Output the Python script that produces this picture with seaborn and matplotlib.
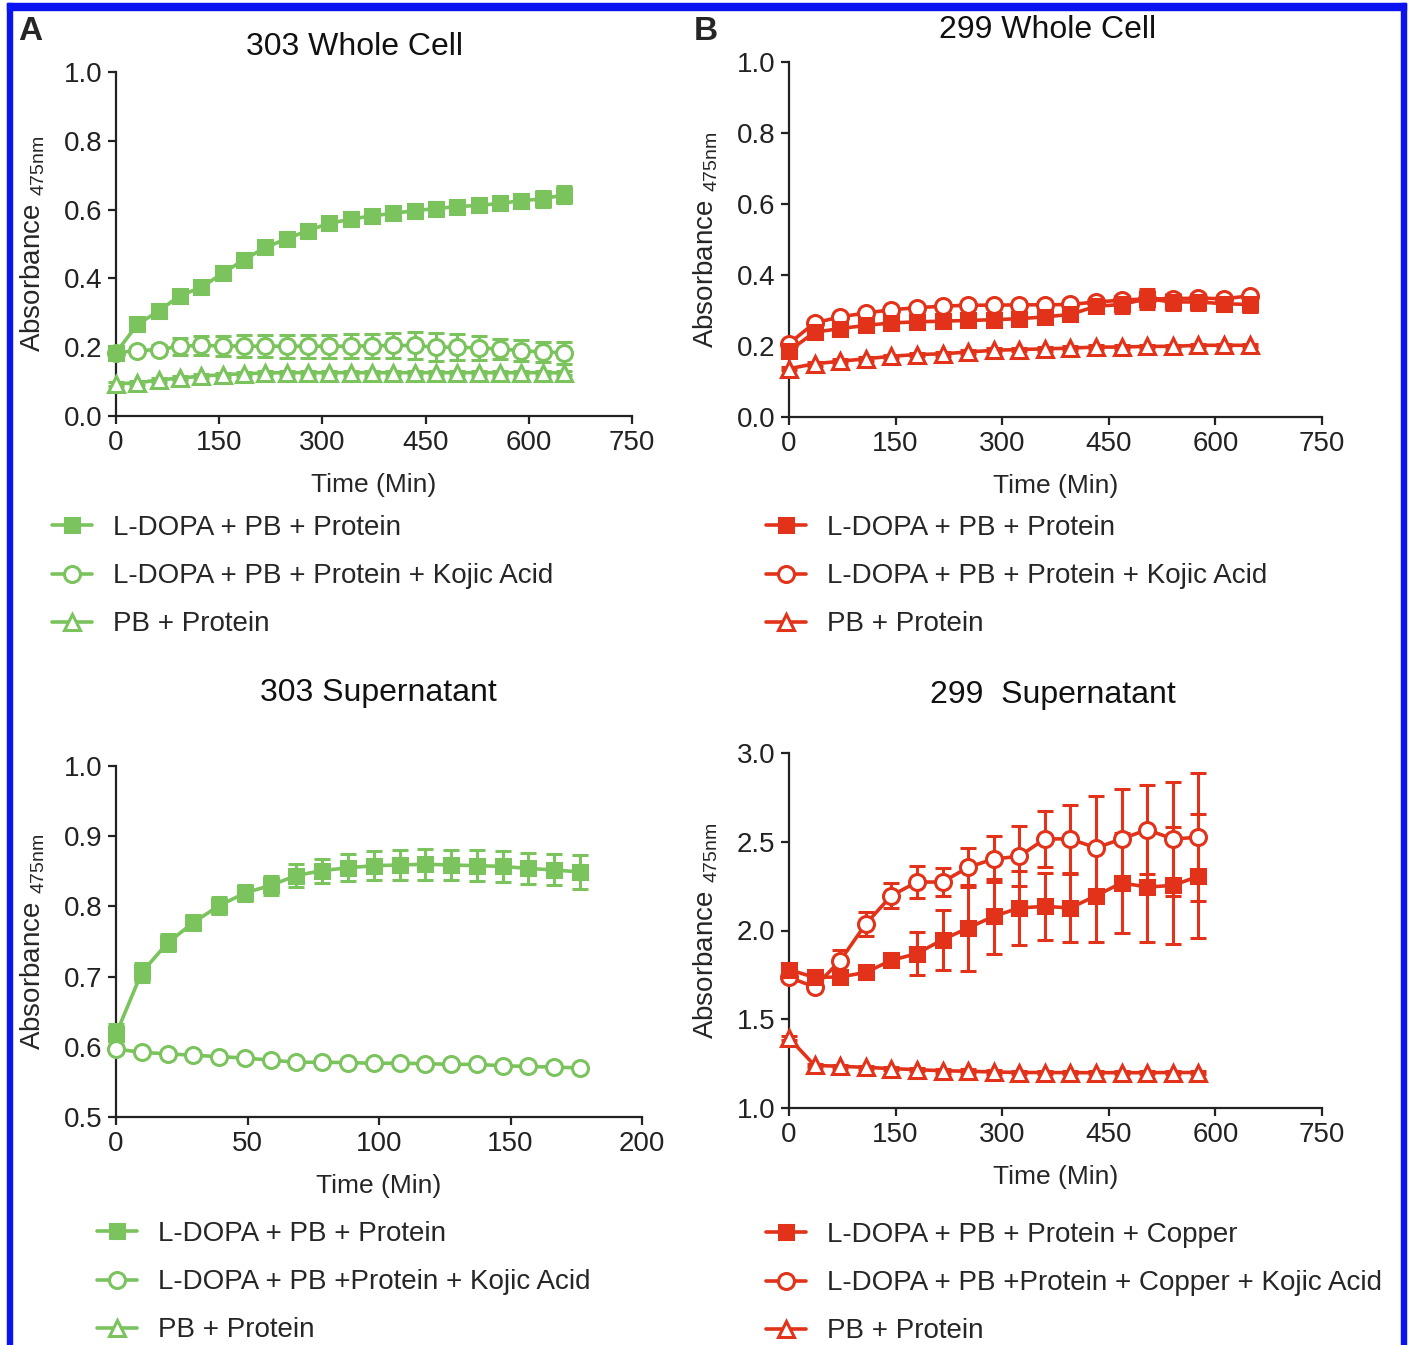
import numpy as np
import pandas as pd
import matplotlib
matplotlib.use("Agg")
import matplotlib.pyplot as plt
from matplotlib.lines import Line2D
from matplotlib.patches import Rectangle
import seaborn as sns

# ---- data ----
# 303 Whole Cell
t_303wc = [0, 31, 62, 93, 124, 155, 186, 217, 248, 279, 310, 341, 372, 403, 434, 465, 496, 527, 558, 589, 620, 651]
wc303_dopa = [0.184, 0.266, 0.305, 0.350, 0.374, 0.415, 0.454, 0.490, 0.515, 0.539, 0.560, 0.572, 0.582, 0.589,
              0.597, 0.603, 0.609, 0.612, 0.618, 0.626, 0.631, 0.643]
wc303_dopa_err = [0.012, 0.012, 0.012, 0.012, 0.012, 0.013, 0.013, 0.015, 0.015, 0.015, 0.010, 0.012, 0.015, 0.018,
                  0.020, 0.020, 0.020, 0.020, 0.020, 0.020, 0.022, 0.025]
wc303_kojic = [0.184, 0.190, 0.193, 0.203, 0.205, 0.204, 0.203, 0.203, 0.203, 0.203, 0.203, 0.203, 0.204, 0.205,
               0.205, 0.200, 0.200, 0.198, 0.195, 0.190, 0.186, 0.184]
wc303_kojic_err = [0.010, 0.010, 0.012, 0.025, 0.028, 0.030, 0.032, 0.032, 0.033, 0.033, 0.033, 0.034, 0.035, 0.036,
                   0.040, 0.040, 0.038, 0.035, 0.030, 0.030, 0.030, 0.032]
wc303_pb = [0.094, 0.096, 0.105, 0.110, 0.116, 0.120, 0.123, 0.125, 0.126, 0.126, 0.126, 0.126, 0.126, 0.126,
            0.126, 0.126, 0.126, 0.126, 0.126, 0.126, 0.126, 0.125]
wc303_pb_err = [0.006] * 22

# 299 Whole Cell
t_299wc = [0, 36, 72, 108, 144, 180, 216, 252, 288, 324, 360, 396, 432, 468, 504, 540, 576, 612, 648]
wc299_dopa = [0.186, 0.239, 0.249, 0.258, 0.265, 0.268, 0.270, 0.272, 0.274, 0.277, 0.282, 0.289, 0.312, 0.317,
              0.333, 0.324, 0.324, 0.319, 0.317]
wc299_dopa_err = [0.010, 0.010, 0.008, 0.008, 0.008, 0.008, 0.008, 0.008, 0.008, 0.008, 0.008, 0.008, 0.010, 0.025,
                  0.028, 0.022, 0.022, 0.018, 0.022]
wc299_kojic = [0.207, 0.265, 0.282, 0.293, 0.302, 0.308, 0.312, 0.315, 0.315, 0.316, 0.316, 0.317, 0.324, 0.329,
               0.333, 0.333, 0.335, 0.333, 0.341]
wc299_kojic_err = [0.008] * 19
wc299_pb = [0.136, 0.150, 0.157, 0.164, 0.171, 0.176, 0.178, 0.183, 0.188, 0.190, 0.192, 0.194, 0.197, 0.197,
            0.199, 0.199, 0.202, 0.202, 0.202]
wc299_pb_err = [0.005] * 19

# 303 Supernatant
t_303sn = [0, 9.8, 19.6, 29.4, 39.2, 49, 58.8, 68.6, 78.4, 88.2, 98, 107.8, 117.6, 127.4, 137.2, 147, 156.8, 166.6, 176.4]
sn303_dopa = [0.618, 0.706, 0.748, 0.777, 0.801, 0.819, 0.830, 0.844, 0.851, 0.855, 0.858, 0.859, 0.860, 0.859,
              0.858, 0.857, 0.854, 0.852, 0.849]
sn303_dopa_err = [0.015, 0.014, 0.012, 0.011, 0.012, 0.012, 0.014, 0.017, 0.017, 0.019, 0.021, 0.021, 0.022, 0.022,
                  0.022, 0.022, 0.022, 0.022, 0.024]
sn303_kojic = [0.597, 0.592, 0.590, 0.588, 0.586, 0.584, 0.581, 0.578, 0.578, 0.5775, 0.5766, 0.5766, 0.576, 0.575,
               0.575, 0.573, 0.572, 0.571, 0.570]
sn303_kojic_err = [0.004] * 19

# 299 Supernatant
t_299sn = [0, 36, 72, 108, 144, 180, 216, 252, 288, 324, 360, 396, 432, 468, 504, 540, 576]
sn299_cu = [1.779, 1.736, 1.738, 1.764, 1.832, 1.870, 1.948, 2.014, 2.080, 2.127, 2.136, 2.127, 2.196, 2.268,
            2.245, 2.254, 2.305]
sn299_cu_err = [0.02, 0.015, 0.015, 0.015, 0.03, 0.12, 0.17, 0.24, 0.21, 0.21, 0.19, 0.19, 0.26, 0.28,
                0.31, 0.33, 0.35]
sn299_kojic = [1.736, 1.682, 1.830, 2.037, 2.196, 2.273, 2.273, 2.356, 2.403, 2.418, 2.516, 2.516, 2.465, 2.516,
               2.568, 2.516, 2.525]
sn299_kojic_err = [0.02, 0.02, 0.06, 0.07, 0.07, 0.09, 0.08, 0.11, 0.13, 0.17, 0.16, 0.19, 0.29, 0.28,
                   0.25, 0.32, 0.36]
sn299_pb = [1.394, 1.240, 1.235, 1.229, 1.222, 1.216, 1.210, 1.207, 1.203, 1.200, 1.200, 1.199, 1.199, 1.199,
            1.199, 1.200, 1.200]
sn299_pb_err = [0.01] * 17

GREEN = '#7AC35D'
RED = '#E2331A'

W, H = 1415, 1345
sns.set_theme(style='ticks')
plt.rcParams['font.family'] = ['Liberation Sans', 'DejaVu Sans']
plt.rcParams['mathtext.default'] = 'regular'

fig = plt.figure(figsize=(W / 100, H / 100), dpi=100)


def px_axes(left, right, top, bottom):
    return fig.add_axes([left / W, 1 - bottom / H, (right - left) / W, (bottom - top) / H])


def fx(x):
    return x / W


def fy(y):
    return 1 - y / H


def draw_series(ax, t, y, err, color, marker, filled):
    df = pd.DataFrame({'t': t, 'y': y})
    ax.errorbar(t, y, yerr=err, fmt='none', ecolor=color, elinewidth=2.2, capsize=6, capthick=2.2,
                clip_on=False, zorder=3)
    sns.lineplot(data=df, x='t', y='y', ax=ax, color=color, lw=2.6, marker=marker,
                 ms=11.5 if marker != 's' else 10.5, mec=color, mew=2.2,
                 mfc=color if filled else 'white', clip_on=False, zorder=4)


def style_axes(ax, xlim, xticks, ylim, yticks, yfmt):
    ax.set_xlim(*xlim)
    ax.set_ylim(*ylim)
    ax.set_xticks(xticks)
    ax.set_yticks(yticks)
    ax.set_yticklabels([yfmt.format(v) for v in yticks])
    sns.despine(ax=ax)
    for s in ['left', 'bottom']:
        ax.spines[s].set_linewidth(1.6)
        ax.spines[s].set_color('#222222')
    ax.tick_params(length=6, width=1.6, labelsize=20, pad=4, colors='#222222')
    ax.set_xlabel('Time (Min)', fontsize=19, labelpad=12)
    ax.set_ylabel(r'Absorbance $_{475nm}$', fontsize=20, labelpad=12)


def add_legend(labels, color, left, top):
    handles = [Line2D([], [], color=color, lw=2.6, marker='s', ms=10.5, mfc=color, mec=color, mew=2.2),
               Line2D([], [], color=color, lw=2.6, marker='o', ms=11.5, mfc='white', mec=color, mew=2.2),
               Line2D([], [], color=color, lw=2.6, marker='^', ms=11.5, mfc='white', mec=color, mew=2.2)]
    fig.legend(handles, labels, loc='upper left', bbox_to_anchor=(fx(left), fy(top)),
               frameon=False, fontsize=20, handlelength=1.45, handletextpad=0.75,
               labelspacing=0.8, borderpad=0, borderaxespad=0)


# ---- A: 303 Whole Cell ----
axA = px_axes(116, 632, 72, 416)
draw_series(axA, t_303wc, wc303_pb, wc303_pb_err, GREEN, '^', False)
draw_series(axA, t_303wc, wc303_kojic, wc303_kojic_err, GREEN, 'o', False)
draw_series(axA, t_303wc, wc303_dopa, wc303_dopa_err, GREEN, 's', True)
style_axes(axA, (0, 750), [0, 150, 300, 450, 600, 750], (0, 1.0), [0, 0.2, 0.4, 0.6, 0.8, 1.0], '{:.1f}')

# ---- B: 299 Whole Cell ----
axB = px_axes(789, 1322, 62, 417)
draw_series(axB, t_299wc, wc299_pb, wc299_pb_err, RED, '^', False)
draw_series(axB, t_299wc, wc299_kojic, wc299_kojic_err, RED, 'o', False)
draw_series(axB, t_299wc, wc299_dopa, wc299_dopa_err, RED, 's', True)
style_axes(axB, (0, 750), [0, 150, 300, 450, 600, 750], (0, 1.0), [0, 0.2, 0.4, 0.6, 0.8, 1.0], '{:.1f}')

# ---- 303 Supernatant ----
axC = px_axes(116, 642, 766, 1117)
draw_series(axC, t_303sn, sn303_kojic, sn303_kojic_err, GREEN, 'o', False)
draw_series(axC, t_303sn, sn303_dopa, sn303_dopa_err, GREEN, 's', True)
style_axes(axC, (0, 200), [0, 50, 100, 150, 200], (0.5, 1.0), [0.5, 0.6, 0.7, 0.8, 0.9, 1.0], '{:.1f}')

# ---- 299 Supernatant ----
axD = px_axes(789, 1322, 753, 1108)
draw_series(axD, t_299sn, sn299_pb, sn299_pb_err, RED, '^', False)
draw_series(axD, t_299sn, sn299_kojic, sn299_kojic_err, RED, 'o', False)
draw_series(axD, t_299sn, sn299_cu, sn299_cu_err, RED, 's', True)
style_axes(axD, (0, 750), [0, 150, 300, 450, 600, 750], (1.0, 3.0), [1.0, 1.5, 2.0, 2.5, 3.0], '{:.1f}')

# titles and panel letters
fig.text(fx(354), fy(47), '303 Whole Cell', fontsize=23, ha='center', va='center', color='#111111')
fig.text(fx(1048), fy(30), '299 Whole Cell', fontsize=23, ha='center', va='center', color='#111111')
fig.text(fx(378), fy(693), '303 Supernatant', fontsize=23, ha='center', va='center', color='#111111')
fig.text(fx(1053), fy(695), '299  Supernatant', fontsize=23, ha='center', va='center', color='#111111')
fig.text(fx(30), fy(31), 'A', fontsize=24, fontweight='bold', ha='center', va='center')
fig.text(fx(706), fy(31), 'B', fontsize=24, fontweight='bold', ha='center', va='center')

# legends
add_legend(['L-DOPA + PB + Protein', 'L-DOPA + PB + Protein + Kojic Acid', 'PB + Protein'], GREEN, 52, 515)
add_legend(['L-DOPA + PB + Protein', 'L-DOPA + PB + Protein + Kojic Acid', 'PB + Protein'], RED, 766, 515)
add_legend(['L-DOPA + PB + Protein', 'L-DOPA + PB +Protein + Kojic Acid', 'PB + Protein'], GREEN, 97, 1221)
add_legend(['L-DOPA + PB + Protein + Copper', 'L-DOPA + PB +Protein + Copper + Kojic Acid', 'PB + Protein'],
           RED, 766, 1222)

# blue frame round the figure (open at the bottom)
frame = dict(color='#0A14F0', transform=fig.transFigure, clip_on=False)
fig.patches.append(Rectangle((fx(7), 0), 5 / W, fy(3), **frame))
fig.patches.append(Rectangle((fx(1401), 0), 5 / W, fy(3), **frame))
fig.patches.append(Rectangle((fx(7), fy(10)), 1399 / W, 7 / H, **frame))

fig.savefig('out.png', dpi=100)
